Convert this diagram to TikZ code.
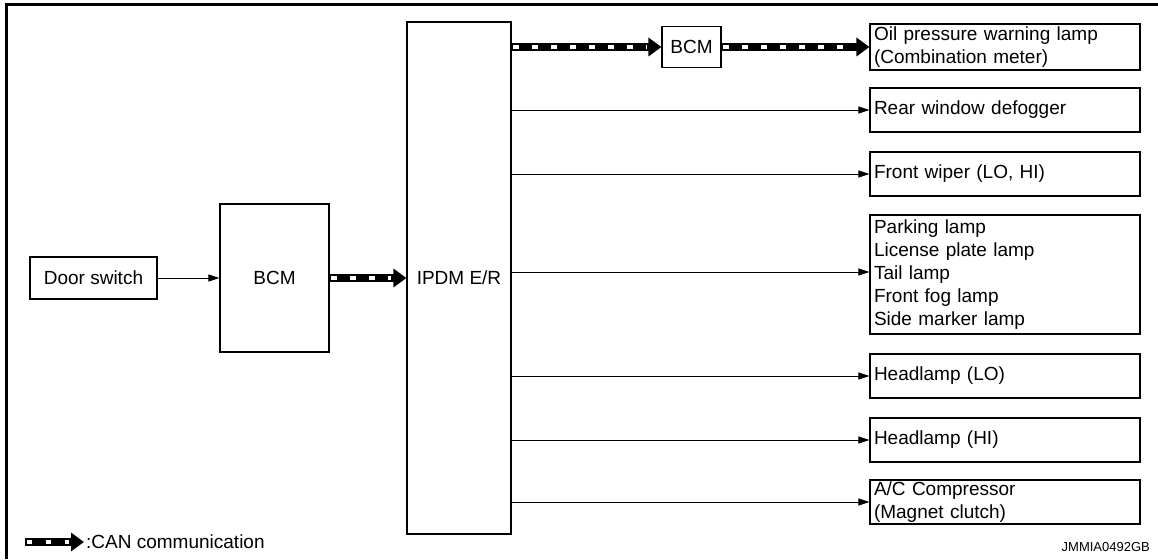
\documentclass[tikz,border=0pt]{standalone}
\usepackage{fontspec}
\setmainfont{Liberation Sans}
\usetikzlibrary{arrows.meta}

\begin{document}
\begin{tikzpicture}[
  x=1pt,y=-1pt,
  every node/.style={font=\fontsize{19}{23}\selectfont},
  box/.style={draw,line width=1.1pt,rectangle,inner sep=0pt},
  outbox/.style={box,minimum width=270pt,text width=262pt,align=left,
    minimum height=44pt},
  sig/.style={line width=0.9pt,-{Triangle[length=11pt,width=7pt]}},
  can/.style={line width=8pt,-{Triangle[length=13pt,width=18pt]},
    postaction={draw=white,line width=4pt,-,shorten >=15pt,
      dash pattern=on 5.5pt off 13.5pt,dash phase=-1.5pt}},
]
\useasboundingbox (0,0) rectangle (1158,559);

% ---- frame --------------------------------------------------------------
\draw[line width=3pt] (6,559) -- (6,5) -- (1158,5);

% ---- left side ----------------------------------------------------------
\node[box,minimum width=127pt,minimum height=42pt] (door) at (93.5,278) {Door switch};
\node[box,minimum width=109pt,minimum height=148pt] (bcmL) at (274.5,278) {BCM};
\node[box,minimum width=104pt,minimum height=512pt] (ipdm) at (459,278) {IPDM E/R};
\node[box,minimum width=59pt,minimum height=41pt] (bcmT) at (691.5,47) {BCM};

% ---- outputs ------------------------------------------------------------
\node[outbox,minimum height=46pt] (oil) at (1005,47)
  {Oil pressure warning lamp\\(Combination meter)};
\node[outbox] (rear)  at (1005,110) {Rear window defogger};
\node[outbox] (wiper) at (1005,174) {Front wiper (LO, HI)};
\node[outbox,minimum height=119pt] (lamps) at (1005,274.5)
  {Parking lamp\\License plate lamp\\Tail lamp\\Front fog lamp\\Side marker lamp};
\node[outbox] (headlo) at (1005,376) {Headlamp (LO)};
\node[outbox] (headhi) at (1005,440) {Headlamp (HI)};
\node[outbox] (comp)   at (1005,502) {A/C Compressor\\(Magnet clutch)};

% ---- connections --------------------------------------------------------
\draw[sig] (door) -- (bcmL);
\draw[can] (bcmL) -- (ipdm);
\draw[can] (ipdm.east |- bcmT.west) -- (bcmT.west);
\draw[can] (bcmT) -- (oil);
\foreach \n in {rear,wiper,headlo,headhi,comp}
  \draw[sig] (ipdm.east |- \n.west) -- (\n.west);
\draw[sig] (ipdm.east |- 0,272) -- (lamps.west |- 0,272);

% ---- legend -------------------------------------------------------------
\coordinate (lgA) at (25,542);
\node[anchor=west,inner sep=0pt] (lgT) at (86,542) {:CAN communication};
\draw[can] (lgA) -- ([xshift=-2pt]lgT.west);
\node[anchor=east,inner sep=0pt,font=\fontsize{13}{15}\selectfont] (code) at (1150,547) {JMMIA0492GB};

\end{tikzpicture}
\end{document}
